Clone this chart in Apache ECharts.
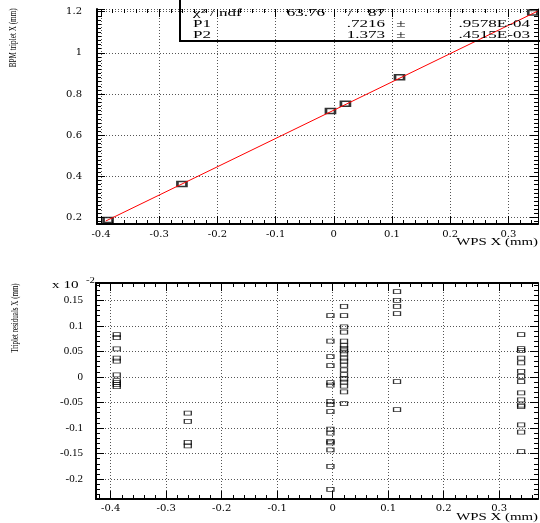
<!DOCTYPE html>
<html><head><meta charset="utf-8">
<script src="https://cdn.jsdelivr.net/npm/echarts@6/dist/echarts.min.js"></script>
<style>html,body{margin:0;padding:0;background:#fff;}#c{width:540px;height:523px;}</style>
</head><body><div id="c"></div>
<script>
// ---------- data ----------
const fitX = [-0.388, -0.261, -0.0057, 0.020, 0.113, 0.342];
const fitY = [0.189, 0.363, 0.718, 0.753, 0.882, 1.196];
const fitParams = [0.7216, 1.373];          // P1 + P2 * x
const fitRange = [-0.392, 0.35];
const statLabels = ['χ² / ndf', 'P1', 'P2'];
const statValues = ['63.76', '.7216', '1.373'];
const statErrors = ['87', '.9578E-04', '.4515E-03'];

const resX = [-0.389, -0.261, -0.004, 0.0205, 0.116, 0.3396];
const resA = [0.083, 0.077, 0.055, 0.037, 0.031, 0.004, -0.007, -0.011, -0.015, -0.019];
const resB = [-0.071, -0.087, -0.128, -0.135];
const resC = [0.120, 0.070, 0.040, 0.022, -0.011, -0.016, -0.048, -0.054, -0.068, -0.102, -0.110, -0.126, -0.129, -0.143, -0.175, -0.220];
const resD = [0.138, 0.120, 0.098, 0.088, 0.070, 0.062, 0.056, 0.051, 0.045, 0.037, 0.031, 0.023, 0.014, 0.0045, -0.004, -0.010, -0.018, -0.029, -0.052];
const resE = [0.167, 0.150, 0.138, 0.124, -0.009, -0.064];
const resF = [0.083, 0.0555, 0.0516, 0.037, 0.0275, 0.011, 0.001, -0.009, -0.031, -0.045, -0.055, -0.058, -0.094, -0.108, -0.146];
const resGroups = [resA, resB, resC, resD, resE, resF];

const topXRange = [-0.407, 0.351];
const topYRange = [0.169, 1.213];
const botXRange = [-0.4264, 0.370];
const botYRange = [-0.239, 0.184];
const xTitle = 'WPS X (mm)';
const topYTitle = 'BPM triplet X (mm)';
const botYTitle = 'Triplet residuals X (mm)';

// ---------- build ----------
function tickFmt(step) {
  return function (v) {
    const k = v / step;
    if (Math.abs(k - Math.round(k)) > 1e-6) return '';
    return String(parseFloat((Math.round(k) * step).toFixed(4)));
  };
}
function makeAxes(dim, grid, range, step, sub, cfg) {
  const posMain = dim === 'x' ? 'bottom' : 'left';
  const posOpp = dim === 'x' ? 'top' : 'right';
  const ax = (pos, interval, tickLen, withLabel, withSplit, line) => ({
    type: 'value', gridIndex: grid, min: range[0], max: range[1], position: pos,
    splitNumber: Math.max(1, Math.round((range[1] - range[0]) / interval)),
    minInterval: interval, maxInterval: interval,
    axisLine: { show: line > 0, onZero: false, lineStyle: { color: '#000', width: line || 1 } },
    axisTick: { show: true, inside: true, length: tickLen, lineStyle: { color: '#000', width: 1 } },
    minorTick: { show: false },
    axisLabel: withLabel ? {
      show: true, formatter: tickFmt(step), margin: cfg.margin,
      fontFamily: cfg.font, fontSize: cfg.size, color: '#000',
      showMinLabel: true, showMaxLabel: true
    } : { show: false },
    splitLine: withSplit ? { show: true, lineStyle: { color: '#555', width: 1, type: [1, 2] } } : { show: false },
    silent: true
  });
  return [
    ax(posMain, step, 8, true, true, cfg.lineMain),
    ax(posMain, step / sub, 4, false, false, 0),
    ax(posOpp, step, 8, false, false, cfg.lineOpp),
    ax(posOpp, step / sub, 4, false, false, 0)
  ];
}

const xAxes = [].concat(
  makeAxes('x', 0, topXRange, 0.1, 5, { margin: 5, font: 'DejaVu Serif', size: 10, lineMain: 2, lineOpp: 0 }),
  makeAxes('x', 1, botXRange, 0.1, 5, { margin: 4, font: 'DejaVu Serif', size: 10, lineMain: 2, lineOpp: 2 })
);
const yAxes = [].concat(
  makeAxes('y', 0, topYRange, 0.2, 10, { margin: 15, font: 'DejaVu Serif', size: 10, lineMain: 2, lineOpp: 1 }),
  makeAxes('y', 1, botYRange, 0.05, 5, { margin: 13, font: 'Liberation Serif', size: 11, lineMain: 2, lineOpp: 1 })
);

const fitLine = fitRange.map(x => [x, fitParams[0] + fitParams[1] * x]);
const topPts = fitX.map((x, i) => [x, fitY[i]]);
const resPts = [];
resGroups.forEach((g, i) => g.forEach(v => resPts.push([resX[i], v])));

const serif = 'Liberation Serif';
function txt(text, x, y, opt) {
  return Object.assign({
    type: 'text', x: x, y: y, z: 100, silent: true,
    style: Object.assign({ text: text, fill: '#000', font: (opt.size || 11) + 'px "' + serif + '"',
      align: opt.align || 'left', verticalAlign: opt.va || 'middle' }, {})
  }, opt.extra || {});
}

const gfx = [];
// stats box (open at top, grid visible through it)
gfx.push({ type: 'rect', z: 99, silent: true, shape: { x: 180, y: -10, width: 380, height: 51 },
  style: { fill: 'none', stroke: '#000', lineWidth: 2 } });
const rowY = [13.5, 24.5, 34.7];
const sx = { scaleX: 1.55 };
statLabels.forEach((l, i) => gfx.push(txt(l, 193, rowY[i], { extra: sx })));
gfx.push(txt(statValues[0], 325, rowY[0], { align: 'right', extra: sx }));
gfx.push(txt('/', 350, rowY[0], { align: 'center', extra: sx }));
gfx.push(txt(statErrors[0], 385, rowY[0], { align: 'right', extra: sx }));
for (let i = 1; i < 3; i++) {
  gfx.push(txt(statValues[i], 385, rowY[i], { align: 'right', extra: sx }));
  gfx.push(txt('±', 401, rowY[i], { align: 'center', extra: sx }));
  gfx.push(txt(statErrors[i], 530, rowY[i], { align: 'right', extra: sx }));
}
// axis titles
gfx.push(txt(xTitle, 538, 242, { align: 'right', extra: { scaleX: 1.35 } }));
gfx.push(txt(xTitle, 538, 517, { align: 'right', extra: { scaleX: 1.35 } }));
gfx.push(txt(topYTitle, 13.5, 8.3, { align: 'right', size: 10, extra: { rotation: Math.PI / 2, scaleX: 0.72 } }));
gfx.push(txt(botYTitle, 15, 283.3, { align: 'right', size: 10, extra: { rotation: Math.PI / 2, scaleX: 0.70 } }));
// exponent label
gfx.push(txt('x 10', 52, 285.5, { extra: { scaleX: 1.38 } }));
gfx.push(txt('-2', 86, 280.5, { size: 8, extra: { scaleX: 1.35 } }));

const option = {
  animation: false,
  backgroundColor: '#fff',
  grid: [
    { left: 97, right: 2, top: 9, height: 215, containLabel: false, outerBoundsMode: 'none' },
    { left: 96, right: 2, top: 283, height: 216, containLabel: false, outerBoundsMode: 'none' }
  ],
  xAxis: xAxes,
  yAxis: yAxes,
  series: [
    { type: 'scatter', xAxisIndex: 0, yAxisIndex: 0, data: topPts, symbol: 'rect', symbolSize: [9, 5],
      itemStyle: { color: '#fff', borderColor: '#000', borderWidth: 2 }, z: 3, silent: true },
    { type: 'line', xAxisIndex: 0, yAxisIndex: 0, data: fitLine, showSymbol: false, symbol: 'none',
      lineStyle: { color: '#ff0000', width: 1 }, z: 4, silent: true },
    { type: 'scatter', xAxisIndex: 4, yAxisIndex: 4, data: resPts, symbol: 'rect', symbolSize: [7, 4],
      itemStyle: { color: 'rgba(0,0,0,0)', borderColor: '#000', borderWidth: 1 }, z: 3, silent: true }
  ],
  graphic: { elements: gfx }
};
const chart = echarts.init(document.getElementById('c'), null, { renderer: 'canvas' });
chart.setOption(option);
</script>
</body></html>
